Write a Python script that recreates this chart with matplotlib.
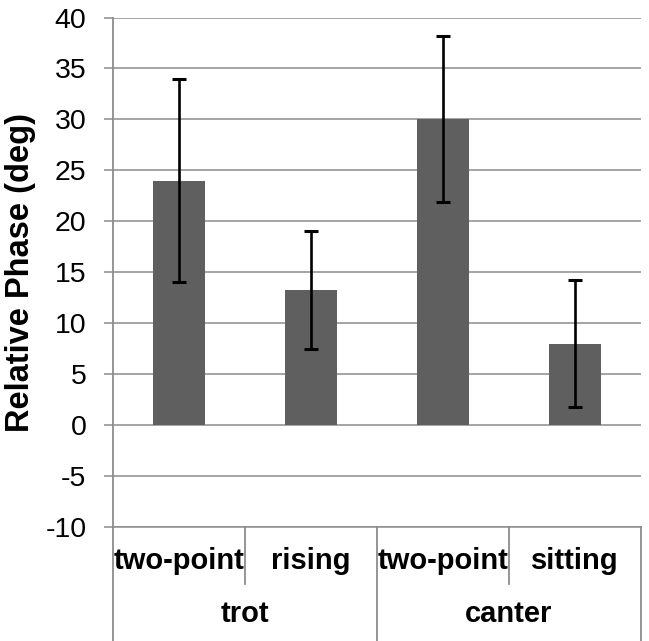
import matplotlib
matplotlib.use("Agg")
import matplotlib.pyplot as plt

# Data
gaits = ["trot", "canter"]
seats = ["two-point", "rising", "two-point", "sitting"]
phase = [24.0, 13.25, 30.0, 8.0]
phase_err = [10.0, 5.8, 8.15, 6.2]
y_ticks = [-10, -5, 0, 5, 10, 15, 20, 25, 30, 35, 40]

plt.rcParams['font.family'] = ['Liberation Sans', 'DejaVu Sans']
plt.rcParams['axes.unicode_minus'] = False

grid_col = '#8c8c8c'
bar_col = '#5f5f5f'

fig = plt.figure(figsize=(6.49, 6.41), dpi=100)
ax = fig.add_axes([113/649, 1 - 527/641, 528/649, 509.5/641])

x = [i + 0.5 for i in range(len(seats))]
ax.bar(x, phase, width=0.4, color=bar_col, zorder=3)
ax.errorbar(x, phase, yerr=phase_err, fmt='none', ecolor='black',
            elinewidth=1.9, capsize=4.7, capthick=2.2, zorder=4)

ax.set_xlim(0, len(seats))
ax.set_ylim(-10, 40)
ax.set_yticks(y_ticks)
ax.tick_params(axis='y', direction='out', length=6.5, width=1.1,
               color=grid_col, labelsize=20.5, pad=12.5)
ax.set_xticks([])
ax.yaxis.grid(True, color=grid_col, linewidth=1.1, zorder=0)

for s in ['top', 'right']:
    ax.spines[s].set_visible(False)
ax.spines['left'].set_color(grid_col)
ax.spines['left'].set_linewidth(1.3)
ax.spines['bottom'].set_color(grid_col)
ax.spines['bottom'].set_linewidth(1.1)

ax.set_ylabel("Relative Phase (deg)", fontsize=23.5, fontweight='bold')
ax.yaxis.set_label_coords(-0.145, 0.5)

# two-level category axis
trans = ax.get_xaxis_transform()
for i in range(len(seats) + 1):
    bottom = -0.112 if i % 2 else -0.23
    ax.plot([i, i], [0, bottom], transform=trans, color=grid_col,
            linewidth=1.3, clip_on=False)
for xi, lab in zip(x, seats):
    ax.text(xi, -0.066, lab, transform=trans, ha='center', va='center',
            fontsize=21, fontweight='bold')
for gi, g in enumerate(gaits):
    ax.text(gi * 2 + 1, -0.17, g, transform=trans, ha='center', va='center',
            fontsize=21, fontweight='bold')

plt.savefig('out.png', dpi=100)
